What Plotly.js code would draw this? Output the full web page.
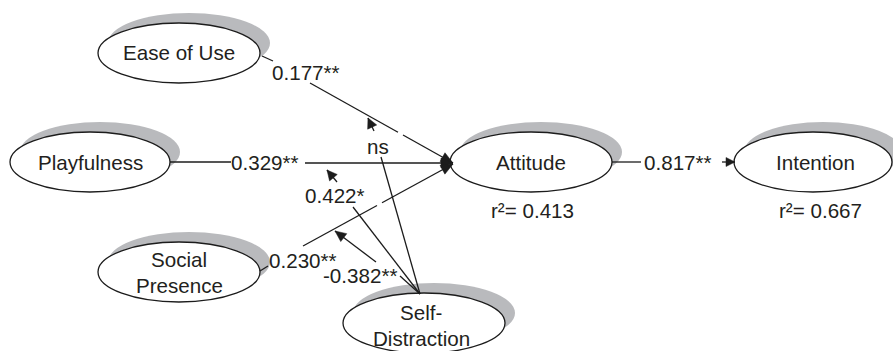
<!DOCTYPE html>
<html>
<head>
<meta charset="utf-8">
<script src="https://cdn.plot.ly/plotly-3.0.1.min.js"></script>
<style>
html,body{margin:0;padding:0;background:#fff;}
#chart{width:893px;height:351px;}
</style>
</head>
<body>
<div id="chart"></div>
<script>
// ---- data ----
var constructNames = [["Ease of Use"], ["Playfulness"], ["Attitude"], ["Intention"], ["Social", "Presence"], ["Self-", "Distraction"]];
var pathCoefficients = ["0.177**", "0.329**", "0.230**", "0.817**"];
var moderationEffects = ["ns", "0.422*", "-0.382**"];
var rSquaredLabels = ["r\u00b2= 0.413", "r\u00b2= 0.667"];

// ---- layout (diagram geometry) ----
var nodePos = [
  {cx:179, cy:53,  rx:81, ry:30},
  {cx:90,  cy:162, rx:80, ry:30},
  {cx:531, cy:162, rx:81, ry:30},
  {cx:813, cy:162, rx:79, ry:30},
  {cx:179, cy:272, rx:81, ry:30},
  {cx:424, cy:323, rx:81, ry:30}
];
var textPos = [[179,52],[90,162],[531,162],[815,162],[179,272],[421,325]];
var SH = {dx:10, dy:-10};
var INK = "#1c1c1c";
var SHADOW = "#b9babd";
var FONT = {family:"Liberation Sans, Arial, Helvetica, sans-serif", size:20.6, color:"#231f20"};
var LINE_GAP = 26;

var shapes = [];
var annotations = [];

// ellipses with shadows
nodePos.forEach(function(n){
  shapes.push({type:"circle", xref:"x", yref:"y",
    x0:n.cx-n.rx+SH.dx, x1:n.cx+n.rx+SH.dx, y0:n.cy-n.ry+SH.dy, y1:n.cy+n.ry+SH.dy,
    fillcolor:SHADOW, line:{width:0}});
});
nodePos.forEach(function(n){
  shapes.push({type:"circle", xref:"x", yref:"y",
    x0:n.cx-n.rx, x1:n.cx+n.rx, y0:n.cy-n.ry, y1:n.cy+n.ry,
    fillcolor:"#ffffff", line:{color:INK, width:1.3}});
});

function seg(x0,y0,x1,y1){
  shapes.push({type:"line", xref:"x", yref:"y", x0:x0, y0:y0, x1:x1, y1:y1,
    line:{color:INK, width:1.3}});
}
function head(tx,ty,fx,fy,len,hw){
  var dx=tx-fx, dy=ty-fy, L=Math.sqrt(dx*dx+dy*dy);
  dx/=L; dy/=L;
  var bx=tx-dx*len, by=ty-dy*len, px=-dy, py=dx;
  var p="M"+tx+","+ty+" L"+(bx+px*hw)+","+(by+py*hw)+" L"+(bx-px*hw)+","+(by-py*hw)+" Z";
  shapes.push({type:"path", xref:"x", yref:"y", path:p, fillcolor:INK, line:{color:INK, width:0.5}});
}
function label(txt,x,y){
  annotations.push({text:txt, x:x, y:y, xref:"x", yref:"y", showarrow:false,
    xanchor:"center", yanchor:"middle", font:FONT});
}

// node labels (one annotation per text line)
constructNames.forEach(function(lines, i){
  var n = lines.length;
  lines.forEach(function(t, j){
    label(t, textPos[i][0], textPos[i][1] + (j - (n-1)/2) * LINE_GAP);
  });
});

// Ease of Use -> Attitude
seg(262,56,273,61);
label(pathCoefficients[0], 306, 72);
seg(310,83,398,132.2);
seg(403,135,453,163);
head(453,163,310,83,12,5);

// Playfulness -> Attitude
seg(170,162,231,162);
label(pathCoefficients[1], 265, 162);
seg(305,163,453,163);
head(453,163,305,163,12,5);

// Social Presence -> Attitude
seg(260,271,268,266);
label(pathCoefficients[2], 303, 260);
seg(303,246,377,205.5);
seg(382,202.8,453,164);
head(453,164,303,246,12,5);

// Attitude -> Intention
seg(612,162,641,162);
label(pathCoefficients[3], 678, 162);
seg(722,162,735,162);
head(735,162,722,162,9,4.5);

// moderation by Self-Distraction
var sdTop = {x:420, y:294};
seg(sdTop.x, sdTop.y, 381, 157);
label(moderationEffects[0], 378, 146);
seg(374,131,368,118); head(368,118,374,131,10,5);

seg(sdTop.x, sdTop.y, 353, 207);
label(moderationEffects[1], 335, 195);
seg(337,182,327,170); head(327,170,337,182,10,5);

seg(sdTop.x, sdTop.y, 400, 276);
label(moderationEffects[2], 360, 275);
seg(376,262,335,231); head(335,231,376,262,11,5);

// r-squared
label(rSquaredLabels[0], 532, 210);
label(rSquaredLabels[1], 820, 210);

var layout = {
  width:893, height:351,
  margin:{l:0,r:0,t:0,b:0},
  paper_bgcolor:"#ffffff", plot_bgcolor:"#ffffff",
  showlegend:false,
  xaxis:{range:[0,893], visible:false, fixedrange:true},
  yaxis:{range:[351,0], visible:false, fixedrange:true},
  shapes:shapes,
  annotations:annotations
};
Plotly.newPlot("chart", [], layout, {staticPlot:true, displayModeBar:false});
</script>
</body>
</html>
